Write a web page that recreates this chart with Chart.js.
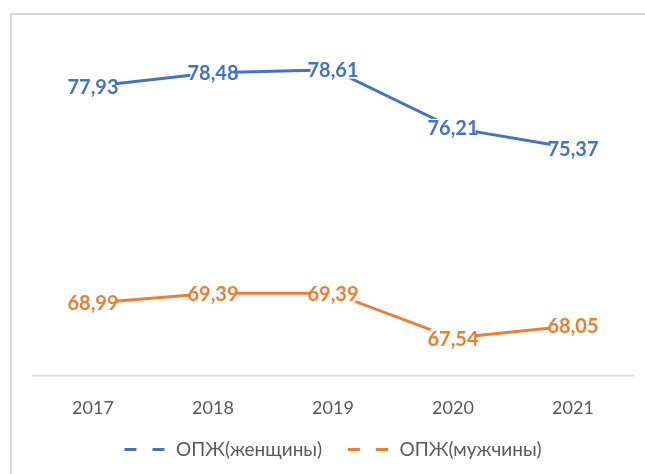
<!DOCTYPE html>
<html>
<head>
<meta charset="utf-8">
<script src="https://cdn.jsdelivr.net/npm/chart.js@4/dist/chart.umd.min.js"></script>
<style>
  html, body { margin: 0; padding: 0; background: #ffffff; }
  #wrap { position: relative; width: 645px; height: 474px; overflow: hidden; }
  #frame { position: absolute; left: 10px; top: 13px; width: 700px; height: 500px;
           border-top: 2px solid #d9d9d9; border-left: 2px solid #d9d9d9; }
  canvas { position: absolute; left: 0; top: -5px; }
</style>
</head>
<body>
<div id="wrap">
  <div id="frame"></div>
  <canvas id="c" width="645" height="474"></canvas>
</div>
<script>
const categories = ['2017', '2018', '2019', '2020', '2021'];
const women = [77.93, 78.48, 78.61, 76.21, 75.37];
const men = [68.99, 69.39, 69.39, 67.54, 68.05];
const seriesNames = ['ОПЖ(женщины)', 'ОПЖ(мужчины)'];
const colors = ['#4472C4', '#ED7D31'];

const labelPlugin = {
  id: 'pointLabels',
  afterDatasetsDraw(chart) {
    const ctx = chart.ctx;
    ctx.save();
    ctx.font = 'bold 20px Lato';
    ctx.textAlign = 'center';
    ctx.textBaseline = 'middle';
    chart.data.datasets.forEach((ds, di) => {
      const meta = chart.getDatasetMeta(di);
      meta.data.forEach((pt, i) => {
        const txt = ds.data[i].toFixed(2).replace('.', ',');
        const w = ctx.measureText(txt).width;
        ctx.fillStyle = '#ffffff';
        ctx.fillRect(pt.x - w / 2 + 3, pt.y - 9, w - 6, 18);
        ctx.fillStyle = colors[di];
        ctx.fillText(txt, pt.x, pt.y + 1);
      });
    });
    ctx.restore();
  }
};

new Chart(document.getElementById('c'), {
  type: 'line',
  data: {
    labels: categories,
    datasets: [
      { label: seriesNames[0], data: women, borderColor: colors[0], backgroundColor: colors[0],
        borderWidth: 3, pointRadius: 0, tension: 0 },
      { label: seriesNames[1], data: men, borderColor: colors[1], backgroundColor: colors[1],
        borderWidth: 3, pointRadius: 0, tension: 0 }
    ]
  },
  options: {
    responsive: false,
    animation: false,
    layout: { padding: { left: 33, right: 12, top: 41, bottom: 0 } },
    scales: {
      x: {
        offset: true,
        grid: { display: false },
        border: { display: true, color: '#d9d9d9', width: 1.5 },
        ticks: { color: '#595959', font: { family: 'Lato', size: 18 }, padding: 14 },
        afterFit(scale) { scale.height = scale.height - 19; }
      },
      y: {
        display: false,
        min: 66,
        max: 80
      }
    },
    plugins: {
      tooltip: { enabled: false },
      legend: {
        position: 'bottom',
        labels: {
          color: '#595959',
          font: { family: 'Lato', size: 19 },
          usePointStyle: true,
          pointStyleWidth: 42,
          boxHeight: 12,
          padding: 26,
          generateLabels(chart) {
            return chart.data.datasets.map((ds, i) => ({
              text: ds.label,
              fillStyle: colors[i],
              strokeStyle: colors[i],
              lineWidth: 3,
              lineDash: [12, 16],
              pointStyle: 'line',
              datasetIndex: i,
              hidden: false,
              fontColor: '#595959'
            }));
          }
        }
      }
    }
  },
  plugins: [labelPlugin]
});
</script>
</body>
</html>
